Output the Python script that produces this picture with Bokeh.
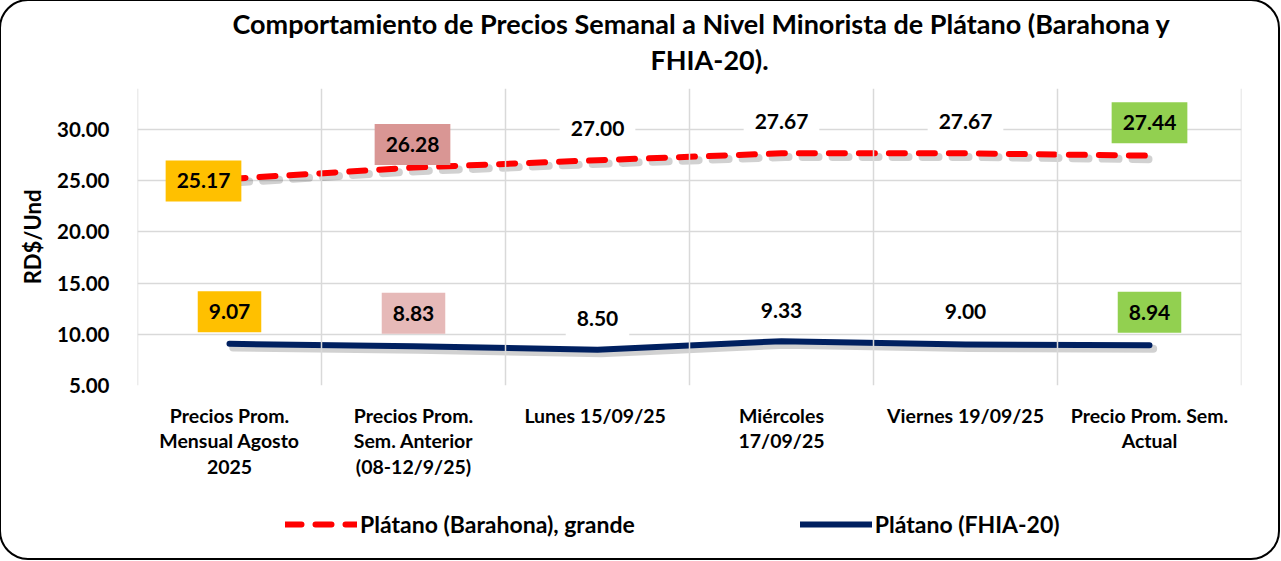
from bokeh.plotting import figure
from bokeh.layouts import column
from bokeh.models import (ColumnDataSource, Span, Title, Legend, LegendItem,
                          FixedTicker, Range1d, CustomJSTickFormatter)
from bokeh.core.properties import value
from bokeh.transform import dodge
from bokeh.embed import file_html
from bokeh.resources import INLINE

categories = [
    "Precios Prom.\nMensual Agosto\n2025",
    "Precios Prom.\nSem. Anterior\n(08-12/9/25)",
    "Lunes  15/09/25",
    "Miércoles\n17/09/25",
    "Viernes 19/09/25",
    "Precio Prom. Sem.\nActual",
]
barahona = [25.17, 26.28, 27.00, 27.67, 27.67, 27.44]
fhia = [9.07, 8.83, 8.50, 9.33, 9.00, 8.94]
y_ticks = [5, 10, 15, 20, 25, 30]
series_names = ["Plátano (Barahona), grande", "Plátano (FHIA-20)"]
title_lines = ["Comportamiento de Precios Semanal a Nivel Minorista de Plátano (Barahona y",
               "FHIA-20)."]

# styles
bar_label_bg = ["#FFC000", "#D99694", "white", "white", "white", "#92D050"]
fhia_label_bg = ["#FFC000", "#E6B9B8", "white", "white", "white", "#92D050"]
bar_dx = [-26, -1, 0, 0, 0, 0]
bar_dy = [-2, 23, 32, 32, 32, 33]
fhia_dx = [0, 0, 0, 0, 0, 0]
fhia_dy = [32, 33, 31, 31, 33, 33]
RED, NAVY = "#FF0000", "#002060"
FONT = "Lato"
W, H, LEG_H = 1279, 559, 55

src = ColumnDataSource(dict(
    x=categories, b=barahona, f=fhia,
    bs=[v - 0.35 for v in barahona], fs=[v - 0.35 for v in fhia],
    bl=[f"{v:.2f}" for v in barahona], fl=[f"{v:.2f}" for v in fhia],
    bbg=bar_label_bg, fbg=fhia_label_bg,
    bdx=bar_dx, bdy=[-d for d in bar_dy], fdx=fhia_dx, fdy=[-d for d in fhia_dy],
))

p = figure(x_range=categories, y_range=Range1d(5, 34), width=W, height=H - LEG_H,
           output_backend="svg", toolbar_location=None, title=None,
           min_border_left=137, min_border_right=38, min_border_top=88,
           min_border_bottom=H - LEG_H - 385)
p.outline_line_color = None
p.border_fill_alpha = 0

# titles, stacked from the frame outwards
p.add_layout(Title(text="\u200b", text_font_size="1px", standoff=10), "above")
p.add_layout(Title(text=title_lines[1], align="left", text_font=FONT,
                   text_font_size="27px", text_font_style="bold", text_color="black",
                   offset=513, standoff=0), "above")
p.add_layout(Title(text=title_lines[0], align="left", text_font=FONT,
                   text_font_size="27px", text_font_style="bold", text_color="black",
                   offset=95, standoff=1), "above")

# grid
p.xgrid.grid_line_color = None
p.ygrid.ticker = FixedTicker(ticks=y_ticks)
p.ygrid.grid_line_color = "#D9D9D9"
p.ygrid.grid_line_width = 1.5
for k in range(len(categories) + 1):
    p.add_layout(Span(location=k, dimension="height", line_color="#D9D9D9", line_width=1.5))

# axes
p.yaxis.ticker = FixedTicker(ticks=y_ticks)
p.yaxis.formatter = CustomJSTickFormatter(code="return tick.toFixed(2);")
p.yaxis.axis_line_color = None
p.yaxis.major_tick_line_color = None
p.yaxis.minor_tick_line_color = None
p.yaxis.major_label_text_font = FONT
p.yaxis.major_label_text_font_style = "bold"
p.yaxis.major_label_text_font_size = "20.5px"
p.yaxis.major_label_text_color = "black"
p.yaxis.major_label_standoff = 22
p.yaxis.axis_label = "RD$/Und"
p.yaxis.axis_label_text_font = FONT
p.yaxis.axis_label_text_font_style = "bold"
p.yaxis.axis_label_text_font_size = "22px"
p.yaxis.axis_label_text_color = "black"
p.yaxis.axis_label_standoff = 8

p.xaxis.axis_line_color = None
p.xaxis.major_tick_line_color = None
p.xaxis.major_label_text_font = FONT
p.xaxis.major_label_text_font_style = "bold"
p.xaxis.major_label_text_font_size = "19.5px"
p.xaxis.major_label_text_color = "black"
p.xaxis.major_label_text_line_height = 1.11
p.xaxis.major_label_standoff = 12
p.xaxis.major_label_orientation = "horizontal"

# shadows
p.line(dodge("x", 0.02, range=p.x_range), "bs", source=src, line_color="black",
       line_alpha=0.18, line_width=8, line_dash="16 14", line_cap="round")
p.line(dodge("x", 0.02, range=p.x_range), "fs", source=src, line_color="black",
       line_alpha=0.18, line_width=8, line_cap="round")

p.line("x", "b", source=src, line_color=RED, line_width=6,
       line_dash="16 14", line_cap="round", line_join="round")
p.line("x", "f", source=src, line_color=NAVY, line_width=6,
       line_cap="round", line_join="round")

for ycol, lcol, bg, dx, dy in [("b", "bl", "bbg", "bdx", "bdy"), ("f", "fl", "fbg", "fdx", "fdy")]:
    p.text(x="x", y=ycol, text=lcol, source=src, x_offset=dx, y_offset=dy,
           text_align="center", text_baseline="middle",
           text_font=value(FONT), text_font_style="bold", text_font_size="21px",
           text_color="black", background_fill_color=bg, padding=(11, 13))

# legend strip
lg = figure(width=W, height=LEG_H, output_backend="svg", toolbar_location=None,
            x_range=Range1d(0, 1), y_range=Range1d(0, 1),
            min_border_left=0, min_border_right=0, min_border_top=0, min_border_bottom=0)
lg.axis.visible = False
lg.grid.grid_line_color = None
lg.outline_line_color = None
lg.border_fill_alpha = 0
lg.background_fill_alpha = 0
lr1 = lg.line(x=[-5, -4], y=[-5, -5], line_color=RED, line_width=6, line_dash="16 14",
              line_cap="round")
lr2 = lg.line(x=[-5, -4], y=[-5, -5], line_color=NAVY, line_width=6, line_cap="round")
legend = Legend(items=[LegendItem(label=series_names[0], renderers=[lr1]),
                       LegendItem(label=series_names[1], renderers=[lr2])],
                orientation="horizontal", location=(148, 21), glyph_width=72,
                label_standoff=3, spacing=165, padding=0, margin=0,
                border_line_color=None, background_fill_alpha=0,
                label_text_font=FONT, label_text_font_style="bold",
                label_text_font_size="23px", label_text_color="black")
lg.add_layout(legend, "center")

layout = column(p, lg, spacing=0)
layout.styles = {"outline": "2px solid black", "outline-offset": "-1px",
                 "border-radius": "28px", "background-color": "white"}

open("out.html", "w").write(file_html(layout, INLINE))
